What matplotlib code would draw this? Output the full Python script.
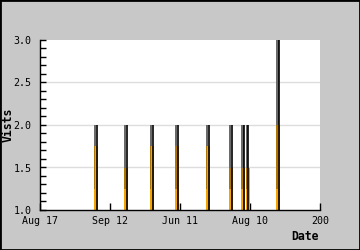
import matplotlib
matplotlib.use("Agg")
import matplotlib.pyplot as plt
from matplotlib.ticker import MultipleLocator

# day index of each visit spike, peak value (black line) and orange fill height
days = [80, 123, 160, 196, 240, 273, 291, 297, 341]
visits = [2, 2, 2, 2, 2, 2, 2, 2, 3]
fill_vals = [1.75, 1.5, 1.75, 1.75, 1.75, 1.5, 1.5, 1.5, 2.0]
tick_pos = [0, 100, 200, 300, 400]
tick_labels = ['Aug 17', 'Sep 12', 'Jun 11', 'Aug 10', '200']

fig = plt.figure(figsize=(3.6, 2.5), dpi=100, facecolor='#c8c8c8')
ax = fig.add_axes([40 / 360, 40 / 250, 280 / 360, 170 / 250])
ax.set_facecolor('white')

mono = 'DejaVu Sans Mono'

# gridlines
for yv in [1.5, 2.0, 2.5]:
    ax.axhline(yv, color='#dddddd', lw=1, zorder=0)

for d, v, f in zip(days, visits, fill_vals):
    # orange fill
    ax.bar(d - 3.2, f - 1, bottom=1, width=5.6, align='edge', color='#f5a300',
           lw=0, zorder=2)
    # darker middle part of the fill
    ax.bar(d - 3.2, f - 1.25, bottom=1.25, width=2.4, align='edge', color='#b07400',
           lw=0, zorder=3)
    # gray shading above the fill
    ax.bar(d - 3.2, v - f, bottom=f, width=3.0, align='edge', color='#6a6a6a',
           lw=0, zorder=3)
    # black line
    ax.vlines(d + 0.8, 1, v, color='black', lw=1.2, zorder=4)

ax.set_xlim(0, 400)
ax.set_ylim(1.0, 3.0)
ax.set_xticks(tick_pos)
ax.set_xticklabels(tick_labels, fontfamily=mono, fontsize=7.2)
ax.yaxis.set_major_locator(MultipleLocator(0.5))
ax.yaxis.set_minor_locator(MultipleLocator(0.1))
ax.set_yticklabels([f'{t:.1f}' for t in ax.get_yticks()], fontfamily=mono, fontsize=7.2)

ax.tick_params(axis='y', which='both', direction='in', length=4, width=1, pad=6)
ax.tick_params(axis='x', direction='in', length=5, width=1, pad=4)
for s in ['top', 'right']:
    ax.spines[s].set_visible(False)
for s in ['left', 'bottom']:
    ax.spines[s].set_linewidth(1)

fig.text(8.5 / 360, 1 - 125 / 250, 'Vists', rotation=90, fontfamily=mono,
         fontweight='bold', fontsize=8.3, ha='center', va='center')
fig.text(305 / 360, 1 - 236 / 250, 'Date', fontfamily=mono,
         fontweight='bold', fontsize=8.3, ha='center', va='center')

# black frame around the whole image
fig.patches.append(plt.Rectangle((0, 0), 1, 1, transform=fig.transFigure,
                                 fill=False, edgecolor='black', lw=2))

fig.savefig('out.png', dpi=100, facecolor=fig.get_facecolor())
